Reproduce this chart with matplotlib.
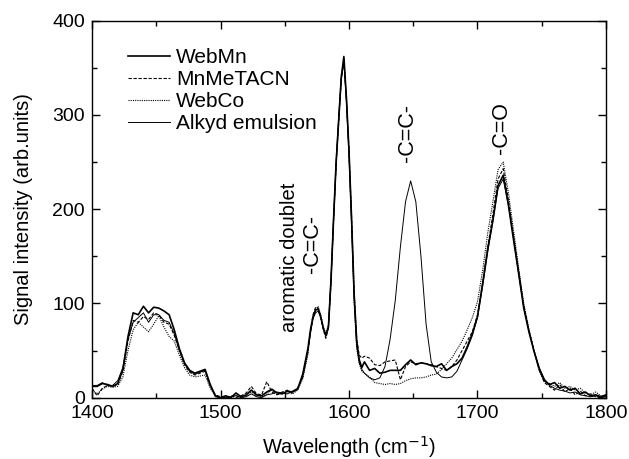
import numpy as np
import matplotlib
matplotlib.use("Agg")
import matplotlib.pyplot as plt

plt.rcParams['font.family'] = ['Liberation Sans', 'DejaVu Sans']

# Wavenumber grid (cm^-1)
wavenumber = np.concatenate([np.arange(1400, 1569, 4),
                             np.arange(1570, 1611, 2),
                             np.arange(1612, 1801, 4)])

web_mn = [12, 12, 15, 14, 12, 15, 30, 65, 90, 88, 97, 90, 96, 95, 92, 88, 72, 52, 37, 29, 26, 28, 30, 14, 2,
          0, 2, 0, 5, 1, 3, 8, 3, 2, 6, 9, 5, 4, 7, 6, 9, 25, 52,
          72, 86, 93, 94, 86, 74, 66, 75, 125, 190, 250, 295, 340, 362, 318, 262, 190, 110, 60, 40, 32,
          38, 29, 31, 26, 27, 29, 29, 29, 35, 40, 35, 37, 36, 34, 33, 36, 29, 33, 36, 42, 54, 68, 86, 121,
          158, 188, 225, 236, 205, 168, 132, 95, 70, 49, 31, 18, 14, 16, 10, 12, 8, 10, 4, 6, 2, 3, 1, 3]

mn_metacn = [10, 2, 10, 13, 12, 14, 28, 60, 82, 80, 86, 83, 90, 88, 80, 78, 66, 50, 35, 27, 24, 26, 28, 12, 3,
             1, 0, 2, 0, 2, 5, 12, 4, 3, 17, 6, 3, 6, 8, 5, 10, 22, 48,
             70, 88, 96, 95, 84, 72, 63, 74, 122, 188, 248, 293, 338, 360, 316, 262, 192, 112, 62, 45, 42,
             44, 42, 35, 34, 38, 39, 40, 19, 33, 38, 36, 37, 36, 35, 33, 31, 29, 33, 40, 50, 60, 70, 88, 122,
             160, 195, 232, 243, 210, 172, 135, 98, 72, 50, 30, 16, 12, 8, 14, 6, 10, 3, 7, 2, 4, 1, 0, 2]

web_co = [8, 4, 9, 12, 11, 12, 22, 50, 72, 80, 75, 70, 78, 87, 75, 65, 60, 45, 32, 24, 22, 23, 24, 10, 2,
          0, 1, 0, 3, 0, 2, 6, 2, 1, 4, 8, 3, 5, 6, 4, 8, 20, 46,
          70, 84, 94, 97, 88, 75, 68, 78, 128, 192, 252, 298, 342, 358, 314, 256, 182, 100, 52, 36, 28,
          26, 22, 16, 15, 14, 15, 14, 15, 18, 20, 21, 21, 22, 24, 25, 30, 36, 42, 51, 60, 72, 85, 102, 135,
          175, 208, 242, 250, 218, 178, 138, 100, 73, 50, 28, 18, 15, 12, 16, 10, 12, 8, 10, 5, 3, 6, 2, 1]

alkyd = [13, 13, 16, 13, 13, 18, 32, 62, 80, 85, 90, 80, 88, 88, 82, 80, 68, 50, 36, 28, 25, 27, 29, 13, 1,
         0, 0, 1, 2, 0, 1, 4, 1, 0, 3, 4, 6, 5, 4, 7, 10, 22, 50,
         68, 84, 90, 92, 85, 73, 65, 76, 124, 188, 248, 296, 338, 356, 316, 258, 186, 105, 55, 37, 30,
         26, 21, 19, 21, 33, 62, 103, 160, 208, 230, 208, 150, 78, 38, 27, 22, 21, 22, 28, 40, 52, 66, 85, 118,
         155, 188, 222, 232, 205, 170, 132, 96, 71, 50, 32, 20, 13, 10, 8, 7, 5, 6, 3, 2, 1, 2, 0, 1]

series_labels = ['WebMn', 'MnMeTACN', 'WebCo', 'Alkyd emulsion']

fig = plt.figure(figsize=(6.29, 4.59), dpi=100)
ax = fig.add_axes([0.1463, 0.1336, 0.8171, 0.8213])

ax.plot(wavenumber, web_mn, color='black', lw=1.2, ls='-', label=series_labels[0])
ax.plot(wavenumber, mn_metacn, color='black', lw=0.8, ls=(0, (3, 1.5)), label=series_labels[1])
ax.plot(wavenumber, web_co, color='black', lw=0.8, ls=(0, (1, 1)), label=series_labels[2])
ax.plot(wavenumber, alkyd, color='black', lw=0.7, ls='-', label=series_labels[3])

ax.set_xlim(1400, 1800)
ax.set_ylim(0, 400)
ax.set_xticks([1400, 1500, 1600, 1700, 1800])
ax.set_yticks([0, 100, 200, 300, 400])
ax.set_xticks(np.arange(1400, 1801, 50), minor=True)
ax.set_yticks(np.arange(0, 401, 50), minor=True)
ax.tick_params(which='both', direction='in', top=True, right=True, labelsize=14, width=1, pad=5)
ax.tick_params(which='major', length=6)
ax.tick_params(which='minor', length=3.5)
for s in ax.spines.values():
    s.set_linewidth(1.0)

ax.set_xlabel('Wavelength (cm$^{-1}$)', fontsize=14.5, labelpad=9)
ax.set_ylabel('Signal intensity (arb.units)', fontsize=14.5, labelpad=14)

leg = ax.legend(loc='upper left', bbox_to_anchor=(0.07, 0.928), frameon=False, fontsize=15,
                handlelength=2.0, handletextpad=0.3, labelspacing=0.15, borderpad=0, borderaxespad=0)

ax.text(1553.5, 70, 'aromatic doublet', rotation=90, ha='center', va='bottom', fontsize=14.5)
ax.text(1571.5, 132, '-C=C-', rotation=90, ha='center', va='bottom', fontsize=15.5)
ax.text(1645.7, 250, '-C=C-', rotation=90, ha='center', va='bottom', fontsize=15.5)
ax.text(1718.5, 259, '-C=O', rotation=90, ha='center', va='bottom', fontsize=15.5)

fig.savefig('out.png', dpi=100)
